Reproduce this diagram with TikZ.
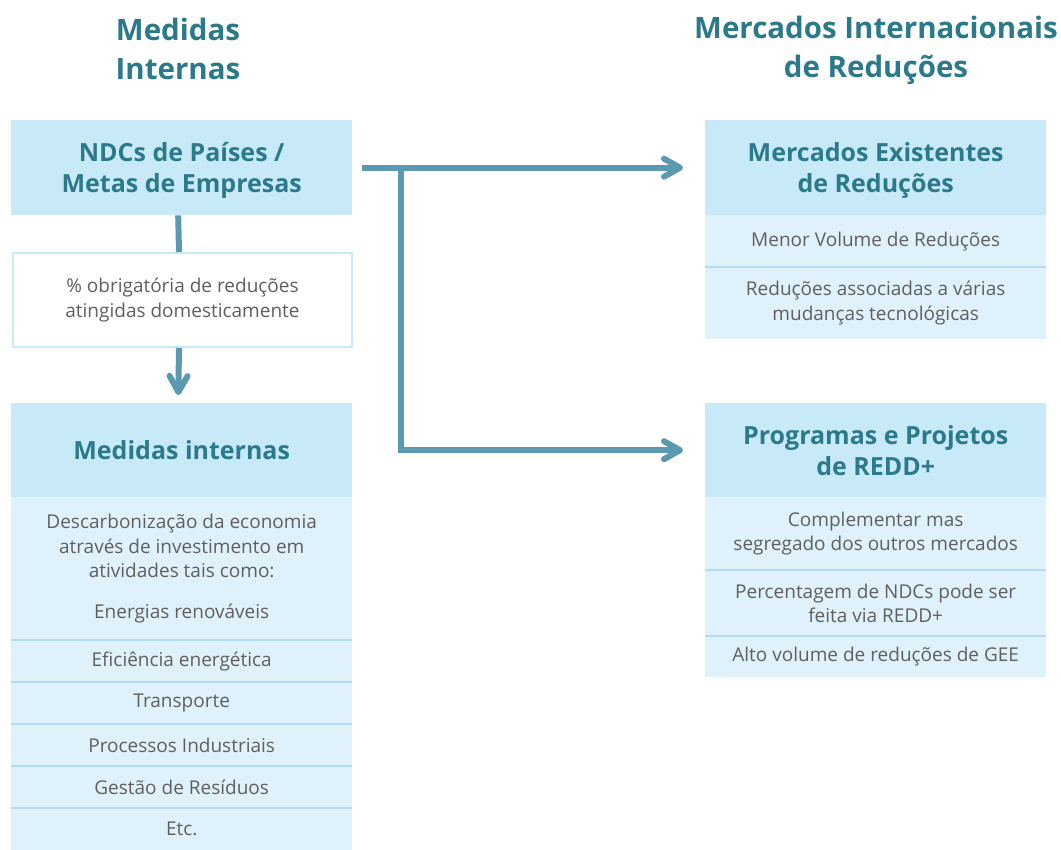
\documentclass[tikz,border=0pt]{standalone}
\usepackage{fontspec}
\setmainfont{Open Sans}
\usetikzlibrary{arrows.meta}
\definecolor{tealtxt}{HTML}{2B7A8B}
\definecolor{headfill}{HTML}{C7E9F8}
\definecolor{rowfill}{HTML}{DFF2FB}
\definecolor{rowline}{HTML}{B3DCEE}
\definecolor{flow}{HTML}{5B99B1}
\definecolor{bodytxt}{HTML}{5F5F5F}
\tikzset{
  title/.style={text=tealtxt,font=\bfseries\fontsize{29.5}{39}\selectfont,align=center},
  head/.style={fill=headfill,text=tealtxt,font=\bfseries\fontsize{25}{31}\selectfont,
    align=center,minimum width=341pt,anchor=north west,inner sep=0pt,text depth=0pt},
  row/.style={fill=rowfill,text=bodytxt,font=\fontsize{19}{24.5}\selectfont,
    align=center,minimum width=341pt,anchor=north west,inner sep=0pt},
  sep/.style={rowline,line width=2pt},
  flowline/.style={flow,line width=6pt},
  flowarrow/.style={flowline,-{Straight Barb[length=16pt,width=18pt,round]}}
}
\begin{document}
\begin{tikzpicture}[x=1pt,y=-1pt]
  \useasboundingbox (0,0) rectangle (1061,850);
  % titles
  \node[title] (tleft) at (178,49) {Medidas\\Internas};
  \node[title] (tright) at (876,50) {Mercados Internacionais\\de Reduções};
  % left column
  \node[head,minimum height=95pt] (ndc) at (11,120) {NDCs de Países /\\Metas de Empresas};
  \node[row,fill=white,draw=headfill,line width=2pt,minimum width=339pt,minimum height=94pt]
       (dom) at (12,252) {\% obrigatória de reduções\\atingidas domesticamente};
  \node[head,minimum height=94pt] (medint) at (11,403) {Medidas internas};
  \node[row,minimum height=143pt] (med1) at (11,497)
       {Descarbonização da economia\\através de investimento em\\atividades tais como:\\[16pt]Energias renováveis};
  \node[row,minimum height=42pt] (med2) at (11,640) {Eficiência energética};
  \node[row,minimum height=42pt] (med3) at (11,682) {Transporte};
  \node[row,minimum height=42pt] (med4) at (11,724) {Processos Industriais};
  \node[row,minimum height=42pt] (med5) at (11,766) {Gestão de Resíduos};
  \node[row,minimum height=42pt] (med6) at (11,808) {Etc.};
  \foreach \r in {med1,med2,med3,med4,med5}
    \draw[sep] (\r.south west) -- (\r.south east);
  % right column, top
  \node[head,minimum height=95pt] (merc) at (705,120) {Mercados Existentes\\de Reduções};
  \node[row,minimum height=52pt] (merc1) at (705,215) {Menor Volume de Reduções};
  \node[row,minimum height=72pt] (merc2) at (705,267) {Reduções associadas a várias\\mudanças tecnológicas};
  \draw[sep] (merc1.south west) -- (merc1.south east);
  % right column, bottom
  \node[head,minimum height=94pt] (redd) at (705,403) {Programas e Projetos\\de REDD+};
  \node[row,minimum height=73pt] (redd1) at (705,497) {Complementar mas\\segregado dos outros mercados};
  \node[row,minimum height=66pt] (redd2) at (705,570) {Percentagem de NDCs pode ser\\feita via REDD+};
  \node[row,minimum height=41pt] (redd3) at (705,636) {Alto volume de reduções de GEE};
  \draw[sep] (redd1.south west) -- (redd1.south east);
  \draw[sep] (redd2.south west) -- (redd2.south east);
  % connectors
  \coordinate (start) at ([xshift=10pt]ndc.east);
  \coordinate (fork) at ([xshift=49pt]ndc.east);
  \draw[flowline] ([xshift=-3.5pt]ndc.south) -- ([xshift=-3.5pt]dom.north);
  \draw[flowarrow,shorten >=8pt] ([xshift=-3.5pt]dom.south) -- ([xshift=-3.5pt]medint.north);
  \draw[flowarrow,shorten >=22pt] (start) -- (merc.west);
  \draw[flowarrow,shorten >=22pt] (fork) |- (redd.west);
\end{tikzpicture}
\end{document}
